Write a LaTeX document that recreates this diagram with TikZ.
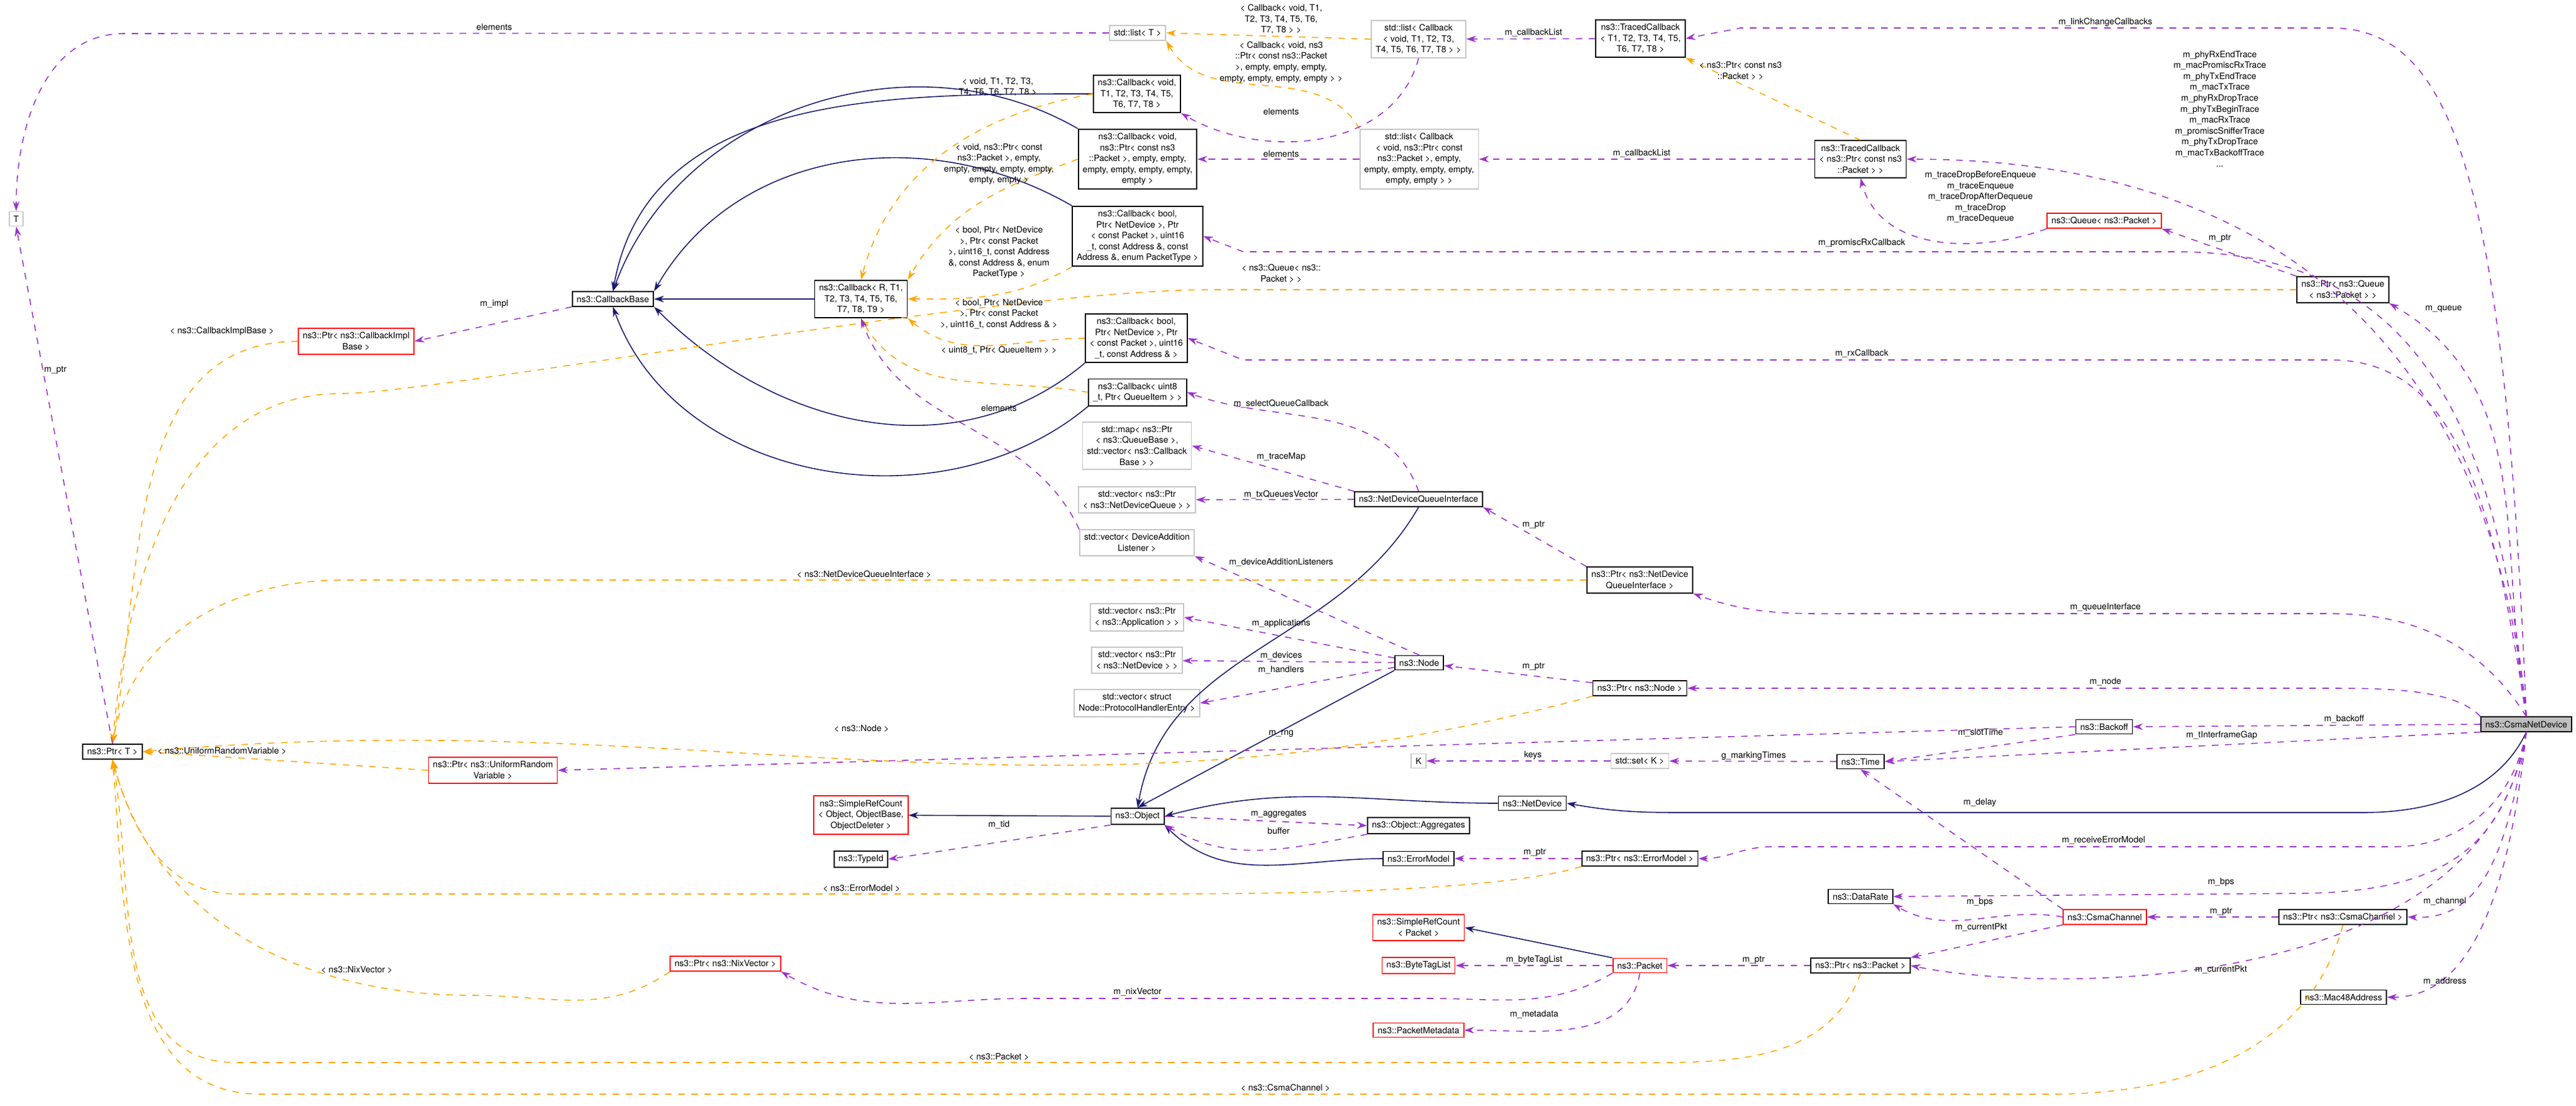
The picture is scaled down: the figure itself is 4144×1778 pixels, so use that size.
\documentclass[tikz,border=0pt]{standalone}
\usepackage{fontspec}
\setmainfont{TeX Gyre Heros}
\usetikzlibrary{arrows.meta}
\definecolor{memcol}{HTML}{9A32CD}
\definecolor{tplcol}{HTML}{FFA500}
\definecolor{inhcol}{HTML}{191970}

\begin{document}
\begin{tikzpicture}[x=0.01cm,y=-0.01cm,
  every node/.style={font=\fontsize{4}{5}\selectfont},
  cls/.style={draw=black,align=center,inner xsep=2pt,inner ysep=1.8pt,fill=white,line width=0.5pt},
  extcls/.style={cls,draw=gray!45},
  undoc/.style={cls,draw=red},
  maincls/.style={cls,fill=gray!50},
  lbl/.style={align=center,inner sep=0pt},
  member/.style={draw=memcol,dashed,line width=0.45pt,-{Stealth[length=4.5pt,width=3pt]}},
  tmpl/.style={draw=tplcol,dashed,line width=0.45pt,-{Stealth[length=4.5pt,width=3pt]}},
  inherit/.style={draw=inhcol,line width=0.45pt,-{Stealth[length=4.5pt,width=3pt]}}]
\useasboundingbox (0,0) rectangle (4144,1778);

% classes
\node[extcls] (T)         at (26,352)    {T};
\node[extcls] (listT)     at (1830,53)   {std::list< T >};
\node[extcls] (listCbT)   at (2282,63)   {std::list< Callback\\< void, T1, T2, T3,\\ T4, T5, T6, T7, T8 > >};
\node[cls]    (tracedT)   at (2639,62)   {ns3::TracedCallback\\< T1, T2, T3, T4, T5,\\ T6, T7, T8 >};
\node[cls]    (cbVoidT)   at (1829,151)  {ns3::Callback< void,\\ T1, T2, T3, T4, T5,\\ T6, T7, T8 >};
\node[cls]    (cbVoidPkt) at (1830,256)  {ns3::Callback< void,\\ ns3::Ptr< const ns3\\::Packet >, empty, empty,\\ empty, empty, empty, empty,\\ empty >};
\node[extcls] (listCbPkt) at (2283,256)  {std::list< Callback\\< void, ns3::Ptr< const\\ ns3::Packet >, empty,\\ empty, empty, empty, empty,\\ empty, empty > >};
\node[cls]    (tracedPkt) at (2993,256)  {ns3::TracedCallback\\< ns3::Ptr< const ns3\\::Packet > >};
\node[cls]    (cbRx)      at (1830,380)  {ns3::Callback< bool,\\ Ptr< NetDevice >, Ptr\\< const Packet >, uint16\\\_t, const Address \&, const\\ Address \&, enum PacketType >};
\node[cls]    (cbBase)    at (986,481)   {ns3::CallbackBase};
\node[cls]    (cbR)       at (1385,481)  {ns3::Callback< R, T1,\\ T2, T3, T4, T5, T6,\\ T7, T8, T9 >};
\node[undoc]  (ptrImpl)   at (573,549)   {ns3::Ptr< ns3::CallbackImpl\\Base >};
\node[undoc]  (queuePkt)  at (3385,355)  {ns3::Queue< ns3::Packet >};
\node[cls]    (ptrQueue)  at (3769,466)  {ns3::Ptr< ns3::Queue\\< ns3::Packet > >};
\node[cls]    (cbRxShort) at (1828,544)  {ns3::Callback< bool,\\ Ptr< NetDevice >, Ptr\\< const Packet >, uint16\\\_t, const Address \& >};
\node[cls]    (cbSelect)  at (1830,631)  {ns3::Callback< uint8\\\_t, Ptr< QueueItem > >};
\node[extcls] (mapTrace)  at (1829,717)  {std::map< ns3::Ptr\\< ns3::QueueBase >,\\ std::vector< ns3::Callback\\Base > >};
\node[extcls] (vecTxQ)    at (1829,804)  {std::vector< ns3::Ptr\\< ns3::NetDeviceQueue > >};
\node[cls]    (ndqi)      at (2282,803)  {ns3::NetDeviceQueueInterface};
\node[extcls] (vecDal)    at (1829,873)  {std::vector< DeviceAddition\\Listener >};
\node[cls]    (ptrNdqi)   at (2638,933)  {ns3::Ptr< ns3::NetDevice\\QueueInterface >};
\node[extcls] (vecApp)    at (1829,993)  {std::vector< ns3::Ptr\\< ns3::Application > >};
\node[extcls] (vecDev)    at (1829,1062) {std::vector< ns3::Ptr\\< ns3::NetDevice > >};
\node[extcls] (vecPhe)    at (1829,1131) {std::vector< struct\\ Node::ProtocolHandlerEntry >};
\node[cls]    (node)      at (2283,1066) {ns3::Node};
\node[cls]    (ptrNode)   at (2638,1107) {ns3::Ptr< ns3::Node >};
\node[cls]    (backoff)   at (3385,1169) {ns3::Backoff};
\node[maincls] (csma)     at (4064,1165) {ns3::CsmaNetDevice};
\node[cls]    (ptrT)      at (181,1209)  {ns3::Ptr< T >};
\node[undoc]  (ptrUrv)    at (793,1239)  {ns3::Ptr< ns3::UniformRandom\\Variable >};
\node[undoc]  (refObj)    at (1385,1311) {ns3::SimpleRefCount\\< Object, ObjectBase,\\ ObjectDeleter >};
\node[cls]    (typeId)    at (1385,1382) {ns3::TypeId};
\node[cls]    (object)    at (1830,1313) {ns3::Object};
\node[cls]    (objAgg)    at (2282,1328) {ns3::Object::Aggregates};
\node[cls]    (netDev)    at (2465,1292) {ns3::NetDevice};
\node[cls]    (errModel)  at (2282,1381) {ns3::ErrorModel};
\node[extcls] (K)         at (2282,1224) {K};
\node[extcls] (setK)      at (2638,1224) {std::set< K >};
\node[cls]    (time)      at (2993,1225) {ns3::Time};
\node[cls]    (ptrErr)    at (2638,1381) {ns3::Ptr< ns3::ErrorModel >};
\node[cls]    (dataRate)  at (2993,1442) {ns3::DataRate};
\node[undoc]  (channel)   at (3386,1475) {ns3::CsmaChannel};
\node[cls]    (ptrChannel) at (3769,1475) {ns3::Ptr< ns3::CsmaChannel >};
\node[undoc]  (refPkt)    at (2282,1492) {ns3::SimpleRefCount\\< Packet >};
\node[undoc]  (tagList)   at (2282,1553) {ns3::ByteTagList};
\node[undoc]  (packet)    at (2638,1553) {ns3::Packet};
\node[cls]    (ptrPkt)    at (2993,1553) {ns3::Ptr< ns3::Packet >};
\node[cls]    (mac)       at (3770,1604) {ns3::Mac48Address};
\node[undoc]  (meta)      at (2282,1657) {ns3::PacketMetadata};
\node[undoc]  (ptrNix)    at (1167,1550) {ns3::Ptr< ns3::NixVector >};

% inheritance
\draw[inherit] (cbR) -- (cbBase);
\draw[inherit] (cbVoidT.west) to[out=180,in=80] (cbBase.north);
\draw[inherit] (cbVoidPkt.north west) to[out=150,in=70] (cbBase.north);
\draw[inherit] (cbRx.north west) to[out=150,in=60] (cbBase.north east);
\draw[inherit] (cbRxShort.south west) to[out=220,in=-45] (cbBase.south east);
\draw[inherit] (cbSelect.south west) to[out=220,in=-70] (cbBase.south);
\draw[inherit] (ndqi.south) to[out=-120,in=80] (object.north);
\draw[inherit] (node.south west) -- (object.north);
\draw[inherit] (netDev.west) to[out=180,in=15] (object.east);
\draw[inherit] (errModel.west) to[out=180,in=-45] (object.south east);
\draw[inherit] (object) -- (refObj);
\draw[inherit] (packet.north west) -- (refPkt.east);
\draw[inherit] (csma.south) .. controls (4030,1250) and (3950,1307) .. (3800,1307) -- (2700,1307) to[out=180,in=-10] (netDev.east);

% template instances
\draw[tmpl] (listCbT.west) -- (listT.east);
\draw[tmpl] (listCbPkt.north west) to[out=120,in=-60] (listT.south east);
\draw[tmpl] (tracedPkt.north) -- (tracedT.south east);
\draw[tmpl] (cbVoidT.west) to[out=190,in=75] (cbR.north);
\draw[tmpl] (cbVoidPkt.west) to[out=200,in=60] (cbR.north east);
\draw[tmpl] (cbRx.south west) to[out=-150,in=0] (cbR.east);
\draw[tmpl] (cbRxShort.west) to[out=180,in=-40] (cbR.south east);
\draw[tmpl] (cbSelect.west) to[out=170,in=-60] (cbR.south);
\draw[tmpl] (ptrImpl.west) to[out=180,in=80] (ptrT.north);
\draw[tmpl] (ptrQueue.west) -- (1950,466) .. controls (1600,466) and (700,633) .. (550,633) to[out=180,in=85] (ptrT.north);
\draw[tmpl] (ptrNdqi.west) -- (550,933) to[out=180,in=80] (ptrT.north);
\draw[tmpl] (ptrNode.south west) to[out=195,in=5] (ptrT.east);
\draw[tmpl] (ptrUrv.west) -- (ptrT.east);
\draw[tmpl] (ptrErr.south west) .. controls (2400,1438) and (2000,1438) .. (1800,1438) -- (380,1438) to[out=180,in=-75] (ptrT.south);
\draw[tmpl] (ptrNix.south west) to[out=-145,in=0] (760,1601) to[out=180,in=-75] (ptrT.south);
\draw[tmpl] (ptrPkt.south) to[out=-110,in=0] (2600,1709) -- (380,1709) to[out=180,in=-80] (ptrT.south);
\draw[tmpl] (ptrChannel.south) to[out=-105,in=0] (3300,1760) -- (420,1760) to[out=180,in=-85] (ptrT.south);

% members
\draw[member] (listT.west) -- (200,54) to[out=180,in=90] (T.north);
\draw[member] (listCbT.south) to[out=-105,in=-30] (cbVoidT.south east);
\draw[member] (tracedT) -- (listCbT);
\draw[member] (csma.north) .. controls (4030,300) and (3950,45) .. (3750,45) -- (2800,45) -- (tracedT.east);
\draw[member] (listCbPkt) -- (cbVoidPkt);
\draw[member] (tracedPkt) -- (listCbPkt);
\draw[member] (csma.north) .. controls (4010,600) and (3700,256) .. (tracedPkt.east);
\draw[member] (queuePkt.south west) to[out=200,in=-75] (tracedPkt.south);
\draw[member] (csma.north) .. controls (4020,700) and (3900,405) .. (3500,405) -- (2000,405) -- (cbRx.east);
\draw[member] (ptrQueue.north west) -- (queuePkt.south east);
\draw[member] (csma.north) to[out=100,in=-30] (ptrQueue.south east);
\draw[member] (csma.north) .. controls (4010,800) and (3950,579) .. (3750,579) -- (2000,579) -- (cbRxShort.east);
\draw[member] (ndqi.north) to[out=110,in=-20] (cbSelect.east);
\draw[member] (ndqi.north west) -- (mapTrace.east);
\draw[member] (ndqi) -- (vecTxQ);
\draw[member] (ptrNdqi.north west) -- (ndqi.south east);
\draw[member] (csma.north) .. controls (4000,1050) and (3900,987) .. (3750,987) -- (2990,987) to[out=180,in=-20] (ptrNdqi.south east);
\draw[member] (node.north) -- (vecDal.south east);
\draw[member] (vecDal.north west) to[out=115,in=-70] (cbR.south);
\draw[member] (node) -- (vecApp.east);
\draw[member] (node) -- (vecDev);
\draw[member] (node) -- (vecPhe.east);
\draw[member] (ptrNode) -- (node);
\draw[member] (csma.north west) .. controls (3950,1110) and (3850,1107) .. (3750,1107) -- (ptrNode.east);
\draw[member] (backoff.west) -- (ptrUrv.east);
\draw[member] (csma.west) -- (backoff.east);
\draw[member] (backoff.south west) -- (time.east);
\draw[member] (csma.south west) -- (time.east);
\draw[member] (setK) -- (K);
\draw[member] (time) -- (setK);
\draw[member] (channel.north west) -- (time.south);
\draw[member] (object.south west) -- (typeId.east);
\draw[member] (object.east) -- (objAgg.west);
\draw[member] (objAgg.south west) to[out=190,in=-30] (object.south east);
\draw[member] (ptrErr) -- (errModel);
\draw[member] (csma.south) .. controls (4040,1300) and (3950,1362) .. (3850,1362) -- (2850,1362) to[out=180,in=0] (ptrErr.east);
\draw[member] (csma.south) .. controls (4030,1350) and (3950,1435) .. (3700,1437) -- (dataRate.east);
\draw[member] (channel.west) to[out=170,in=-30] (dataRate.south east);
\draw[member] (ptrChannel) -- (channel);
\draw[member] (csma.south) .. controls (4030,1400) and (3980,1480) .. (ptrChannel.east);
\draw[member] (channel.south west) -- (ptrPkt.north east);
\draw[member] (csma.south) .. controls (4000,1600) and (3300,1600) .. (ptrPkt.east);
\draw[member] (csma.south) .. controls (4030,1500) and (3950,1604) .. (mac.east);
\draw[member] (ptrPkt) -- (packet);
\draw[member] (packet) -- (tagList);
\draw[member] (packet.south) to[out=-100,in=0] (meta.east);
\draw[member] (packet.south west) to[out=-150,in=0] (2300,1606) -- (1650,1606) to[out=180,in=-30] (ptrNix.south east);
\draw[member] (cbBase.south west) -- (ptrImpl.east);
\draw[member] (ptrT.north) -- (T.south);

% labels
\node[lbl] (lElemT)    at (795,43)    {elements};
\node[lbl] (lCbT)      at (2061,31)   {< Callback< void, T1,\\ T2, T3, T4, T5, T6,\\ T7, T8 > >};
\node[lbl] (lCbPkt)    at (2061,100)  {< Callback< void, ns3\\::Ptr< const ns3::Packet\\>, empty, empty, empty,\\ empty, empty, empty, empty > >};
\node[lbl] (lListT)    at (2467,53)   {m\_callbackList};
\node[lbl] (lTraced)   at (2800,114)  {< ns3::Ptr< const ns3\\::Packet > >};
\node[lbl] (lLink)     at (3387,36)   {m\_linkChangeCallbacks};
\node[lbl] (lVoidT)    at (1605,140)  {< void, T1, T2, T3,\\ T4, T5, T6, T7, T8 >};
\node[lbl] (lElemCbT)  at (2061,179)  {elements};
\node[lbl] (lElemPkt)  at (2061,247)  {elements};
\node[lbl] (lListPkt)  at (2641,247)  {m\_callbackList};
\node[lbl] (lVoidPkt)  at (1607,264)  {< void, ns3::Ptr< const\\ ns3::Packet >, empty,\\ empty, empty, empty, empty,\\ empty, empty >};
\node[lbl] (lTraces)   at (3571,175)  {m\_phyRxEndTrace\\m\_macPromiscRxTrace\\m\_phyTxEndTrace\\m\_macTxTrace\\m\_phyRxDropTrace\\m\_phyTxBeginTrace\\m\_macRxTrace\\m\_promiscSnifferTrace\\m\_phyTxDropTrace\\m\_macTxBackoffTrace\\...};
\node[lbl] (lQTraces)  at (3186,317)  {m\_traceDropBeforeEnqueue\\m\_traceEnqueue\\m\_traceDropAfterDequeue\\m\_traceDrop\\m\_traceDequeue};
\node[lbl] (lRxFull)   at (1607,406)  {< bool, Ptr< NetDevice\\>, Ptr< const Packet\\>, uint16\_t, const Address\\\&, const Address \&, enum\\ PacketType >};
\node[lbl] (lQueueT)   at (2061,440)  {< ns3::Queue< ns3::\\Packet > >};
\node[lbl] (lQPtr)     at (3571,383)  {m\_ptr};
\node[lbl] (lPromisc)  at (2995,391)  {m\_promiscRxCallback};
\node[lbl] (lImpl)     at (795,489)   {m\_impl};
\node[lbl] (lQueue)    at (3931,497)  {m\_queue};
\node[lbl] (lRxShort)  at (1607,505)  {< bool, Ptr< NetDevice\\>, Ptr< const Packet\\>, uint16\_t, const Address \& >};
\node[lbl] (lImplT)    at (357,533)   {< ns3::CallbackImplBase >};
\node[lbl] (lSelectT)  at (1607,563)  {< uint8\_t, Ptr< QueueItem > >};
\node[lbl] (lRx)       at (2995,568)  {m\_rxCallback};
\node[lbl] (lTPtr)     at (89,595)    {m\_ptr};
\node[lbl] (lSelect)   at (2061,649)  {m\_selectQueueCallback};
\node[lbl] (lElemDal)  at (1607,656)  {elements};
\node[lbl] (lTraceMap) at (2061,735)  {m\_traceMap};
\node[lbl] (lTxQ)      at (2061,795)  {m\_txQueuesVector};
\node[lbl] (lNdqiPtr)  at (2467,844)  {m\_ptr};
\node[lbl] (lDal)      at (2061,905)  {m\_deviceAdditionListeners};
\node[lbl] (lNdqiT)    at (1390,924)  {< ns3::NetDeviceQueueInterface >};
\node[lbl] (lQIf)      at (3387,977)  {m\_queueInterface};
\node[lbl] (lApps)     at (2061,1003) {m\_applications};
\node[lbl] (lDevs)     at (2061,1055) {m\_devices};
\node[lbl] (lNodePtr)  at (2467,1072) {m\_ptr};
\node[lbl] (lHandlers) at (2061,1078) {m\_handlers};
\node[lbl] (lNode)     at (3387,1097) {m\_node};
\node[lbl] (lBackoff)  at (3771,1157) {m\_backoff};
\node[lbl] (lNodeT)    at (1386,1172) {< ns3::Node >};
\node[lbl] (lSlot)     at (3186,1179) {m\_slotTime};
\node[lbl] (lRng)      at (2061,1180) {m\_rng};
\node[lbl] (lGap)      at (3574,1183) {m\_tInterframeGap};
\node[lbl] (lUrvT)     at (357,1208)  {< ns3::UniformRandomVariable >};
\node[lbl] (lKeys)     at (2466,1215) {keys};
\node[lbl] (lMarking)  at (2821,1216) {g\_markingTimes};
\node[lbl] (lDelay)    at (3185,1291) {m\_delay};
\node[lbl] (lAgg)      at (2057,1309) {m\_aggregates};
\node[lbl] (lTid)      at (1607,1327) {m\_tid};
\node[lbl] (lBuffer)   at (2057,1336) {buffer};
\node[lbl] (lRecv)     at (3384,1352) {m\_receiveErrorModel};
\node[lbl] (lErrPtr)   at (2469,1371) {m\_ptr};
\node[lbl] (lBps)      at (3573,1419) {m\_bps};
\node[lbl] (lErrT)     at (1386,1429) {< ns3::ErrorModel >};
\node[lbl] (lChannel)  at (3933,1450) {m\_channel};
\node[lbl] (lBpsCh)    at (3185,1451) {m\_bps};
\node[lbl] (lChPtr)    at (3573,1466) {m\_ptr};
\node[lbl] (lCurCh)    at (3187,1492) {m\_currentPkt};
\node[lbl] (lTagList)  at (2468,1544) {m\_byteTagList};
\node[lbl] (lPktPtr)   at (2821,1544) {m\_ptr};
\node[lbl] (lNixT)     at (574,1560)  {< ns3::NixVector >};
\node[lbl] (lCur)      at (3573,1560) {m\_currentPkt};
\node[lbl] (lAddress)  at (3933,1579) {m\_address};
\node[lbl] (lNix)      at (1830,1596) {m\_nixVector};
\node[lbl] (lMeta)     at (2468,1632) {m\_metadata};
\node[lbl] (lPktT)     at (1607,1700) {< ns3::Packet >};
\node[lbl] (lChT)      at (2068,1750) {< ns3::CsmaChannel >};
\end{tikzpicture}
\end{document}
